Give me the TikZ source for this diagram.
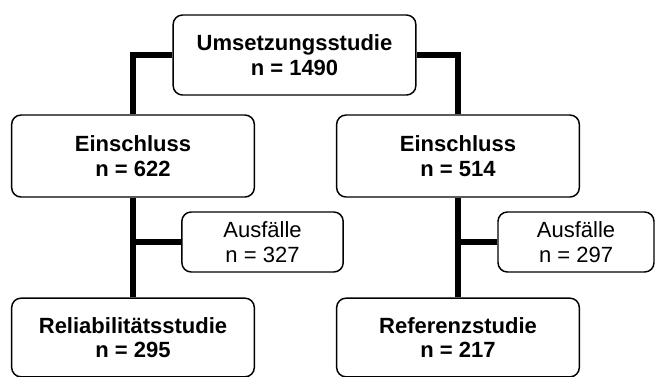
\documentclass[tikz,border=0pt]{standalone}
\usepackage{fontspec}
\setmainfont{Liberation Sans}
\usepackage{tikz}
\usetikzlibrary {arrows.meta,
                 calc,
                 positioning}
\tikzset{
        base/.style={draw, line width=1.1pt, rounded corners=7pt, align=center,
                     inner sep=0pt, font=\fontsize{16.5}{18.5}\selectfont},
        studybox/.style={base, minimum width=182pt, minimum height=60pt,
                         font=\fontsize{16.5}{18.5}\selectfont\bfseries},
        dropbox/.style={base, minimum height=45pt},
        myline/.style={line width=4.5pt},
 }
\begin{document}
\begin{tikzpicture}[x=0.75pt, y=-0.75pt]
    \useasboundingbox (0,0) rectangle (655,376);

    \node[studybox] (top) at (294.5,55) {Umsetzungsstudie\\n = 1490};

    \node[studybox, minimum height=61.5pt] (in1) at (133,156) {Einschluss\\n = 622};
    \node[studybox, minimum height=61.5pt] (in2) at (458,156) {Einschluss\\n = 514};

    \node[dropbox, minimum width=121pt] (out1) at (262.5,242) {Ausfälle\\n = 327};
    \node[dropbox, minimum width=117pt] (out2) at (576,242) {Ausfälle\\n = 297};

    \node[studybox, minimum height=59pt] (res1) at (133,337.5) {Reliabilitätsstudie\\n = 295};
    \node[studybox, minimum height=59pt] (res2) at (458,337.5) {Referenzstudie\\n = 217};

    \draw[myline] (top.west) -| (in1.north);
    \draw[myline] (top.east) -| (in2.north);
    \draw[myline] (in1.south) -- (res1.north);
    \draw[myline] (in2.south) -- (res2.north);
    \draw[myline] (out1.west) -- (out1.west -| in1.south);
    \draw[myline] (out2.west) -- (out2.west -| in2.south);
\end{tikzpicture}
\end{document}
